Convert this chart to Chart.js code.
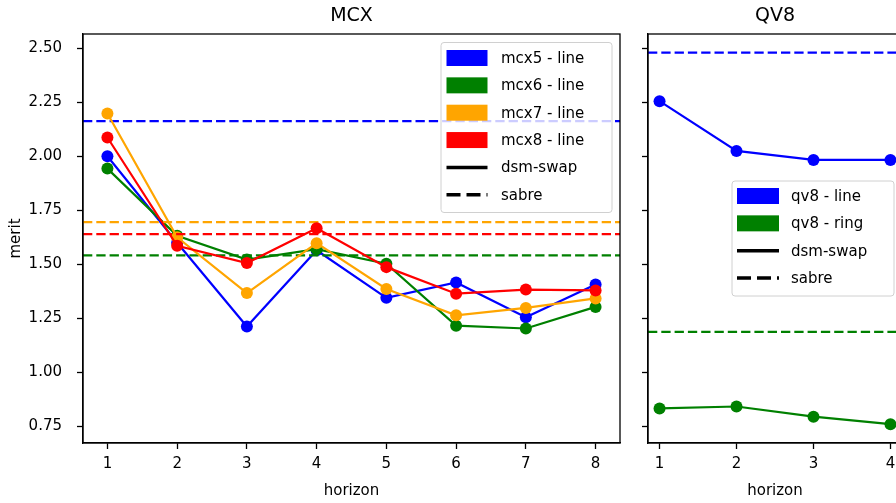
<!DOCTYPE html>
<html>
<head>
<meta charset="utf-8">
<script src="https://cdn.jsdelivr.net/npm/chart.js@4.4.0/dist/chart.umd.min.js"></script>
<style>
  html, body { margin: 0; padding: 0; background: #fff; overflow: hidden; }
  #wrap { position: relative; width: 896px; height: 503px; overflow: hidden; }
  canvas { position: absolute; top: 0; }
  #mcx { left: 0; }
  #qv8 { left: 630px; }
</style>
</head>
<body>
<div id="wrap">
  <canvas id="mcx" width="630" height="503"></canvas>
  <canvas id="qv8" width="282" height="503"></canvas>
</div>
<script>
// x values
const horizons = [1, 2, 3, 4, 5, 6, 7, 8];
const qvHorizons = [1, 2, 3, 4];

// MCX panel, dsm-swap results per horizon
const mcx5Line = [2.000, 1.600, 1.212, 1.565, 1.345, 1.416, 1.255, 1.407];
const mcx6Line = [1.943, 1.632, 1.522, 1.570, 1.503, 1.216, 1.203, 1.303];
const mcx7Line = [2.198, 1.625, 1.367, 1.598, 1.386, 1.264, 1.298, 1.342];
const mcx8Line = [2.087, 1.586, 1.506, 1.667, 1.487, 1.364, 1.383, 1.379];
// sabre baselines (mcx5, mcx6, mcx7, mcx8)
const mcxSabre = [2.163, 1.541, 1.695, 1.640];
const mcxNames = ['mcx5 - line', 'mcx6 - line', 'mcx7 - line', 'mcx8 - line'];

// QV8 panel
const qv8Line = [2.255, 2.025, 1.983, 1.983];
const qv8Ring = [0.833, 0.842, 0.795, 0.760];
const qvSabre = [2.480, 1.187];
const qvNames = ['qv8 - line', 'qv8 - ring'];

const yTicks = [0.75, 1.00, 1.25, 1.50, 1.75, 2.00, 2.25, 2.50];
const yMin = 0.673, yMax = 2.566;

const colors = ['#0000ff', '#008000', '#ffa500', '#ff0000'];
const FONT = "'DejaVu Sans', sans-serif";

Chart.defaults.font.family = FONT;
Chart.defaults.font.size = 15;
Chart.defaults.color = '#000';

function buildDatasets(xs, series, sabre, xMin, xMax) {
    const ds = [];
    series.forEach((vals, i) => {
        ds.push({
            data: xs.map((x, j) => ({ x: x, y: vals[j] })),
            borderColor: colors[i],
            backgroundColor: colors[i],
            borderWidth: 2.2,
            pointRadius: 6,
            pointHoverRadius: 6,
            pointBorderWidth: 0,
            tension: 0
        });
        ds.push({
            data: [{ x: xMin, y: sabre[i] }, { x: xMax, y: sabre[i] }],
            borderColor: colors[i],
            borderWidth: 2.2,
            borderDash: [9.3, 4],
            pointRadius: 0,
            pointHoverRadius: 0
        });
    });
    // later series drawn on top, like matplotlib
    ds.forEach((d, k) => { d.order = ds.length - k; });
    return ds;
}

const framePlugin = {
    id: 'frame',
    afterDatasetsDraw(chart) {
        const a = chart.chartArea, ctx = chart.ctx;
        ctx.save();
        ctx.strokeStyle = '#000';
        ctx.lineWidth = 1.3;
        ctx.strokeRect(a.left, a.top, a.right - a.left, a.bottom - a.top);
        ctx.restore();
    }
};

const titlePlugin = {
    id: 'panelTitle',
    afterDraw(chart, args, opts) {
        const a = chart.chartArea, ctx = chart.ctx;
        ctx.save();
        ctx.font = '19px ' + FONT;
        ctx.fillStyle = '#000';
        ctx.textAlign = 'center';
        ctx.textBaseline = 'middle';
        ctx.fillText(opts.text, (a.left + a.right) / 2, 16);
        ctx.restore();
    }
};

const legendPlugin = {
    id: 'boxLegend',
    afterDraw(chart, args, opts) {
        const ctx = chart.ctx;
        const b = opts.box;
        ctx.save();
        ctx.beginPath();
        ctx.roundRect(b.x, b.y, b.w, b.h, 3);
        ctx.fillStyle = 'rgba(255,255,255,0.8)';
        ctx.fill();
        ctx.strokeStyle = '#d0d0d0';
        ctx.lineWidth = 1;
        ctx.stroke();

        const items = opts.names.map((n, i) => ({ label: n, kind: 'patch', color: colors[i] }))
            .concat([{ label: 'dsm-swap', kind: 'solid' }, { label: 'sabre', kind: 'dashed' }]);
        ctx.font = '15px ' + FONT;
        ctx.textBaseline = 'middle';
        ctx.textAlign = 'left';
        items.forEach((it, i) => {
            const cy = opts.firstRow + i * opts.step;
            if (it.kind === 'patch') {
                ctx.fillStyle = it.color;
                ctx.fillRect(opts.handleX, cy - 8, opts.handleW, 16);
            } else {
                ctx.strokeStyle = '#000';
                ctx.lineWidth = 3.5;
                ctx.setLineDash(it.kind === 'dashed' ? [14, 6] : []);
                ctx.beginPath();
                ctx.moveTo(opts.handleX, cy);
                ctx.lineTo(opts.handleX + opts.handleW, cy);
                ctx.stroke();
                ctx.setLineDash([]);
            }
            ctx.fillStyle = '#000';
            ctx.fillText(it.label, opts.textX, cy + 1);
        });
        ctx.restore();
    }
};

function makeScales(xMin, xMax, xs, showY) {
    return {
        x: {
            type: 'linear',
            min: xMin,
            max: xMax,
            afterBuildTicks: s => { s.ticks = xs.map(v => ({ value: v })); },
            afterFit: s => { s.height = 60; },
            ticks: { padding: 6, maxRotation: 0, autoSkip: false, callback: v => String(v) },
            grid: { drawOnChartArea: false, drawTicks: true, tickLength: 6, tickColor: '#000', tickWidth: 1.3 },
            border: { display: true, color: '#000', width: 1.3 },
            title: { display: true, text: 'horizon', padding: { top: 0, bottom: 3 } }
        },
        y: {
            type: 'linear',
            min: yMin,
            max: yMax,
            afterBuildTicks: s => { s.ticks = yTicks.map(v => ({ value: v })); },
            afterFit: s => { s.width = showY ? 83 : 18; },
            ticks: { padding: 15, callback: v => showY ? v.toFixed(2) : '' },
            grid: { drawOnChartArea: false, drawTicks: true, tickLength: 6, tickColor: '#000', tickWidth: 1.3 },
            border: { display: true, color: '#000', width: 1.3 },
            title: { display: showY, text: 'merit', padding: { top: 7, bottom: 0 } }
        }
    };
}

new Chart('mcx', {
    type: 'line',
    data: { datasets: buildDatasets(horizons, [mcx5Line, mcx6Line, mcx7Line, mcx8Line], mcxSabre, 0.65, 8.35) },
    options: {
        responsive: false,
        animation: false,
        events: [],
        layout: { padding: { top: 34, right: 10, left: 0, bottom: 0 } },
        scales: makeScales(0.65, 8.35, horizons, true),
        plugins: {
            legend: { display: false },
            tooltip: { enabled: false },
            panelTitle: { text: 'MCX' },
            boxLegend: {
                box: { x: 441, y: 42.5, w: 171, h: 170 },
                names: mcxNames,
                firstRow: 58, step: 27.35,
                handleX: 446.5, handleW: 41, textX: 501
            }
        }
    },
    plugins: [framePlugin, titlePlugin, legendPlugin]
});

new Chart('qv8', {
    type: 'line',
    data: { datasets: buildDatasets(qvHorizons, [qv8Line, qv8Ring], qvSabre, 0.85, 4.15) },
    options: {
        responsive: false,
        animation: false,
        events: [],
        layout: { padding: { top: 34, right: 10, left: 0, bottom: 0 } },
        scales: makeScales(0.85, 4.15, qvHorizons, false),
        plugins: {
            legend: { display: false },
            tooltip: { enabled: false },
            panelTitle: { text: 'QV8' },
            boxLegend: {
                box: { x: 102, y: 181, w: 162, h: 115 },
                names: qvNames,
                firstRow: 196, step: 27.35,
                handleX: 107, handleW: 42, textX: 161
            }
        }
    },
    plugins: [framePlugin, titlePlugin, legendPlugin]
});
</script>
</body>
</html>
